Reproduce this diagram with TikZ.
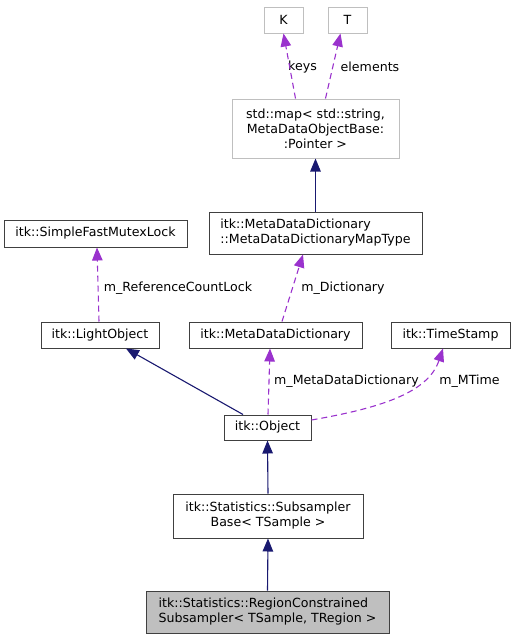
\documentclass[tikz,border=0pt]{standalone}
\usepackage{fontspec}
\setmainfont{DejaVu Sans}
\usetikzlibrary{arrows.meta}
\definecolor{navy}{HTML}{191970}
\definecolor{orchid}{HTML}{9A32CD}
\definecolor{boxgrey}{HTML}{BFBFBF}
\definecolor{boxline}{HTML}{404040}
\tikzset{
  cls/.style={draw=boxline, line width=1pt, rectangle, inner sep=0pt, font=\fontsize{12.6}{15}\selectfont},
  ext/.style={draw=boxgrey, line width=1pt, rectangle, inner sep=0pt, font=\fontsize{12.6}{15}\selectfont},
  lbl/.style={inner sep=0pt, font=\fontsize{12.6}{15}\selectfont},
  inherit/.style={draw=navy, line width=1.1pt, -{Triangle[length=13pt,width=10.5pt]}},
  usage/.style={draw=orchid, line width=1.1pt, dash pattern=on 6pt off 4pt, -{Triangle[length=13pt,width=10.5pt]}},
}
\begin{document}
\begin{tikzpicture}[x=1pt,y=-1pt]
\useasboundingbox (0,0) rectangle (515,640);
% nodes
\node[ext, minimum width=39pt, minimum height=26pt] (K) at (283.5,20) {K};
\node[ext, minimum width=39pt, minimum height=26pt] (T) at (347.5,20) {T};
\node[ext, minimum width=167pt, minimum height=59pt, align=center] (map) at (315.5,128.5) {std::map< std::string,\\ MetaDataObjectBase:\\:Pointer >};
\node[cls, minimum width=213pt, minimum height=42pt, align=left] (maptype) at (315.5,233) {itk::MetaDataDictionary\\::MetaDataDictionaryMapType};
\node[cls, minimum width=183pt, minimum height=27pt] (mutex) at (95.5,233.5) {itk::SimpleFastMutexLock};
\node[cls, minimum width=118pt, minimum height=26pt] (light) at (100,335) {itk::LightObject};
\node[cls, minimum width=173pt, minimum height=26pt] (mdd) at (275.5,335) {itk::MetaDataDictionary};
\node[cls, minimum width=119pt, minimum height=26pt] (ts) at (450.5,335) {itk::TimeStamp};
\node[cls, minimum width=87pt, minimum height=25pt] (obj) at (267.5,427.5) {itk::Object};
\node[cls, minimum width=190pt, minimum height=44pt, align=center] (subbase) at (268,516) {itk::Statistics::Subsampler\\Base< TSample >};
\node[cls, fill=boxgrey, minimum width=243pt, minimum height=42pt, align=left] (region) at (267.5,612) {itk::Statistics::RegionConstrained\\Subsampler< TSample, TRegion >};
% labels
\node[lbl] (lkeys) at (302.5,67) {keys};
\node[lbl] (lelem) at (370,67) {elements};
\node[lbl] (lref) at (178,288) {m\_ReferenceCountLock};
\node[lbl] (ldict) at (343,288) {m\_Dictionary};
\node[lbl] (lmdd) at (346.5,381) {m\_MetaDataDictionary};
\node[lbl] (lmtime) at (469.5,381) {m\_MTime};
% edges
\draw[usage] ([xshift=-20pt]map.north) -- (K.south);
\draw[usage] ([xshift=10pt]map.north) -- ([xshift=-7pt]T.south);
\draw[inherit] (maptype.north) -- (map.south);
\draw[usage] ([xshift=6.5pt]mdd.north) -- ([xshift=-12.5pt]maptype.south);
\draw[usage] ([xshift=-1pt]light.north) -- ([xshift=1.5pt]mutex.south);
\draw[inherit] ([xshift=-24.5pt]obj.north) -- ([xshift=26pt]light.south);
\draw[usage] ([xshift=0.5pt]obj.north) -- ([xshift=-5.5pt]mdd.south);
\draw[usage] ([yshift=7.5pt]obj.east) .. controls (380,408) and (428,393) .. ([xshift=-7.5pt]ts.south);
\draw[inherit] (subbase.north) -- (obj.south);
\draw[inherit] (region.north) -- (subbase.south);
\end{tikzpicture}
\end{document}
